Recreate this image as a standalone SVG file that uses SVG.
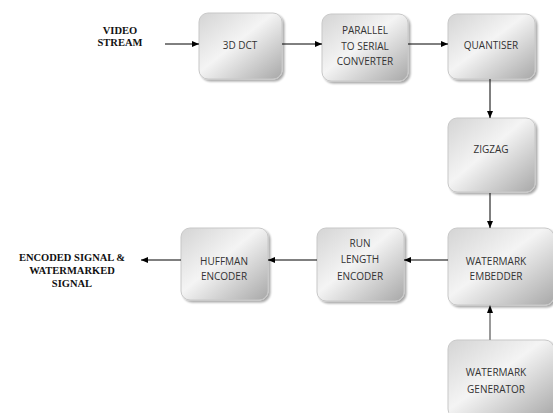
<svg xmlns="http://www.w3.org/2000/svg" width="553" height="413" viewBox="0 0 553 413">
<defs>
<linearGradient id="g" x1="0" y1="0" x2="1" y2="1">
<stop offset="0" stop-color="#d4d4d4"/>
<stop offset="0.45" stop-color="#f4f4f4"/>
<stop offset="1" stop-color="#a8a8a8"/>
</linearGradient>
<filter id="sh" x="-10%" y="-10%" width="130%" height="130%">
<feGaussianBlur in="SourceAlpha" stdDeviation="1.2"/>
<feOffset dx="1.5" dy="1.5"/>
<feComponentTransfer><feFuncA type="linear" slope="0.35"/></feComponentTransfer>
<feMerge><feMergeNode/><feMergeNode in="SourceGraphic"/></feMerge>
</filter>
<marker id="ah" markerWidth="8" markerHeight="8" refX="7" refY="4" orient="auto" markerUnits="userSpaceOnUse">
<path d="M0,1 L7,4 L0,7 z" fill="#000"/>
</marker>
</defs>
<style>
.box{fill:url(#g);stroke:#c8c8c8;stroke-width:1;filter:url(#sh)}
.t{font-family:"Open Sans","Liberation Sans",sans-serif;font-size:10px;fill:#333;text-anchor:middle}
.s{font-family:"Liberation Serif",serif;font-size:10.5px;font-weight:bold;fill:#111;text-anchor:middle}
.c{stroke:#000;stroke-width:1;fill:none;marker-end:url(#ah)}
</style>
<rect width="553" height="413" fill="#fff"/>
<g id="video-stream"><text class="s" x="120" y="34">VIDEO</text><text class="s" x="120" y="46">STREAM</text></g>
<g id="dct"><rect class="box" x="199" y="13" width="83" height="66" rx="9"/><text class="t" x="240" y="49">3D DCT</text></g>
<g id="p2s"><rect class="box" x="322" y="14" width="86" height="67" rx="9"/><text class="t" x="365" y="34">PARALLEL</text><text class="t" x="365" y="50">TO SERIAL</text><text class="t" x="365" y="65">CONVERTER</text></g>
<g id="quantiser"><rect class="box" x="448" y="14" width="87" height="65" rx="9"/><text class="t" x="491" y="49">QUANTISER</text></g>
<g id="zigzag"><rect class="box" x="448" y="118" width="87" height="74" rx="9"/><text class="t" x="491" y="153">ZIGZAG</text></g>
<g id="embedder"><rect class="box" x="448" y="228" width="106" height="77" rx="9"/><text class="t" x="496" y="265">WATERMARK</text><text class="t" x="496" y="280">EMBEDDER</text></g>
<g id="generator"><rect class="box" x="448" y="340" width="106" height="78" rx="9"/><text class="t" x="496" y="376">WATERMARK</text><text class="t" x="496" y="393">GENERATOR</text></g>
<g id="rle"><rect class="box" x="317" y="228" width="87" height="73" rx="9"/><text class="t" x="360" y="247">RUN</text><text class="t" x="360" y="263">LENGTH</text><text class="t" x="360" y="280">ENCODER</text></g>
<g id="huffman"><rect class="box" x="181" y="228" width="87" height="72" rx="9"/><text class="t" x="224" y="265">HUFFMAN</text><text class="t" x="224" y="280">ENCODER</text></g>
<g id="output"><text class="s" x="72" y="261">ENCODED SIGNAL &amp;</text><text class="s" x="72" y="274">WATERMARKED</text><text class="s" x="72" y="287">SIGNAL</text></g>
<g id="connectors">
<line class="c" x1="165" y1="44" x2="199" y2="44"/>
<line class="c" x1="282" y1="44" x2="322" y2="44"/>
<line class="c" x1="408" y1="44" x2="448" y2="44"/>
<line class="c" x1="490" y1="79" x2="490" y2="118"/>
<line class="c" x1="490" y1="193" x2="490" y2="228"/>
<line class="c" x1="448" y1="260" x2="404" y2="260"/>
<line class="c" x1="317" y1="260" x2="268" y2="260"/>
<line class="c" x1="181" y1="260" x2="141" y2="260"/>
<line x1="490" y1="340" x2="490" y2="312" stroke="#999" stroke-width="2"/>
<path d="M487,313 L490,305 L493,313 z" fill="#000"/>
</g>
</svg>
